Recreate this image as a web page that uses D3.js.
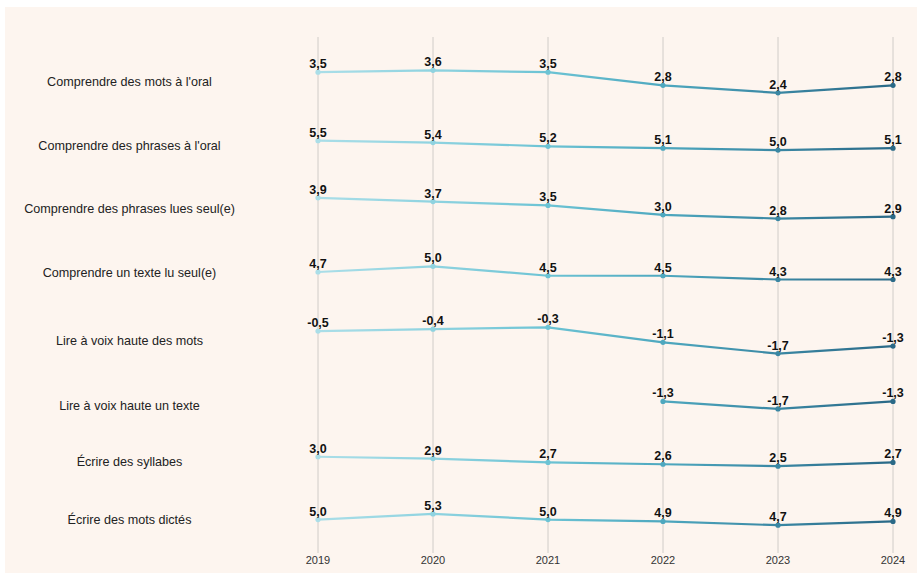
<!DOCTYPE html>
<html><head><meta charset="utf-8">
<script src="https://cdn.jsdelivr.net/npm/d3@7"></script>
<style>body{margin:0;background:#fff}svg{display:block}</style>
</head><body><svg id="c" width="917" height="573"></svg>
<script>
const years = ["2019","2020","2021","2022","2023","2024"];
const categories = [
  "Comprendre des mots à l'oral",
  "Comprendre des phrases à l'oral",
  "Comprendre des phrases lues seul(e)",
  "Comprendre un texte lu seul(e)",
  "Lire à voix haute des mots",
  "Lire à voix haute un texte",
  "Écrire des syllabes",
  "Écrire des mots dictés"
];
const motsOral      = [3.5, 3.6, 3.5, 2.8, 2.4, 2.8];
const phrasesOral   = [5.5, 5.4, 5.2, 5.1, 5.0, 5.1];
const phrasesLues   = [3.9, 3.7, 3.5, 3.0, 2.8, 2.9];
const texteLu       = [4.7, 5.0, 4.5, 4.5, 4.3, 4.3];
const voixMots      = [-0.5, -0.4, -0.3, -1.1, -1.7, -1.3];
const voixTexte     = [null, null, null, -1.3, -1.7, -1.3];
const syllabes      = [3.0, 2.9, 2.7, 2.6, 2.5, 2.7];
const motsDictes    = [5.0, 5.3, 5.0, 4.9, 4.7, 4.9];
const series = [motsOral, phrasesOral, phrasesLues, texteLu, voixMots, voixTexte, syllabes, motsDictes];
const yearColors = ["#aadee8","#8fd3e0","#6cc3d4","#4ea8bf","#3a87a3","#2a6987"];

const svg = d3.select("#c");
svg.append("rect").attr("x",5).attr("y",7).attr("width",912).attr("height",566).attr("fill","#fdf5ef");

const x = d3.scalePoint().domain(years).range([318, 893]);
const unit = 18.8, gap = 47.8, rowTop0 = 70.3;

const defs = svg.append("defs");
const grad = defs.append("linearGradient").attr("id","g").attr("gradientUnits","userSpaceOnUse")
  .attr("x1",x(years[0])).attr("x2",x(years[years.length-1])).attr("y1",0).attr("y2",0);
yearColors.forEach((c,i)=>grad.append("stop").attr("offset",i/(yearColors.length-1)).attr("stop-color",c));
const colorOf = d3.scaleOrdinal().domain(years).range(yearColors);

svg.append("g").selectAll("line").data(years).join("line")
  .attr("x1",d=>x(d)).attr("x2",d=>x(d)).attr("y1",37).attr("y2",553)
  .attr("stroke","#d0ccc8").attr("stroke-width",1);

svg.append("g").selectAll("text").data(years).join("text")
  .attr("x",d=>x(d)).attr("y",564).attr("text-anchor","middle")
  .attr("font-family","Liberation Sans, Arial, sans-serif").attr("font-size",11).attr("fill","#333")
  .text(d=>d);

let rowTop = rowTop0;
series.forEach((vals,i)=>{
  const ext = d3.extent(vals.filter(v=>v!=null));
  const h = (ext[1]-ext[0])*unit;
  const y = d3.scaleLinear().domain([ext[1], ext[0]]).range([rowTop, rowTop+h]);
  const g = svg.append("g");
  g.append("text").attr("x",129.5).attr("y",rowTop+h/2).attr("dy","0.35em").attr("text-anchor","middle")
    .attr("font-family","Liberation Sans, Arial, sans-serif").attr("font-size",12.6).attr("fill","#222")
    .text(categories[i]);
  const pts = years.map((yr,j)=>({yr, v: vals[j]})).filter(d=>d.v!=null);
  const line = d3.line().x(d=>x(d.yr)).y(d=>y(d.v));
  g.append("path").datum(pts).attr("d",line).attr("fill","none")
    .attr("stroke","url(#g)").attr("stroke-width",2.2).attr("stroke-linejoin","round");
  g.selectAll("circle").data(pts).join("circle")
    .attr("cx",d=>x(d.yr)).attr("cy",d=>y(d.v)).attr("r",2.6)
    .attr("fill",d=>colorOf(d.yr));
  g.selectAll("text.v").data(pts).join("text").attr("class","v")
    .attr("x",d=>x(d.yr)).attr("y",d=>y(d.v)-4).attr("text-anchor","middle")
    .attr("font-family","Liberation Sans, Arial, sans-serif").attr("font-size",12.5).attr("font-weight","bold").attr("fill","#111")
    .text(d=>d3.format(".1f")(d.v).replace(".",",").replace("−","-"));
  rowTop += h + gap;
});
</script></body></html>
